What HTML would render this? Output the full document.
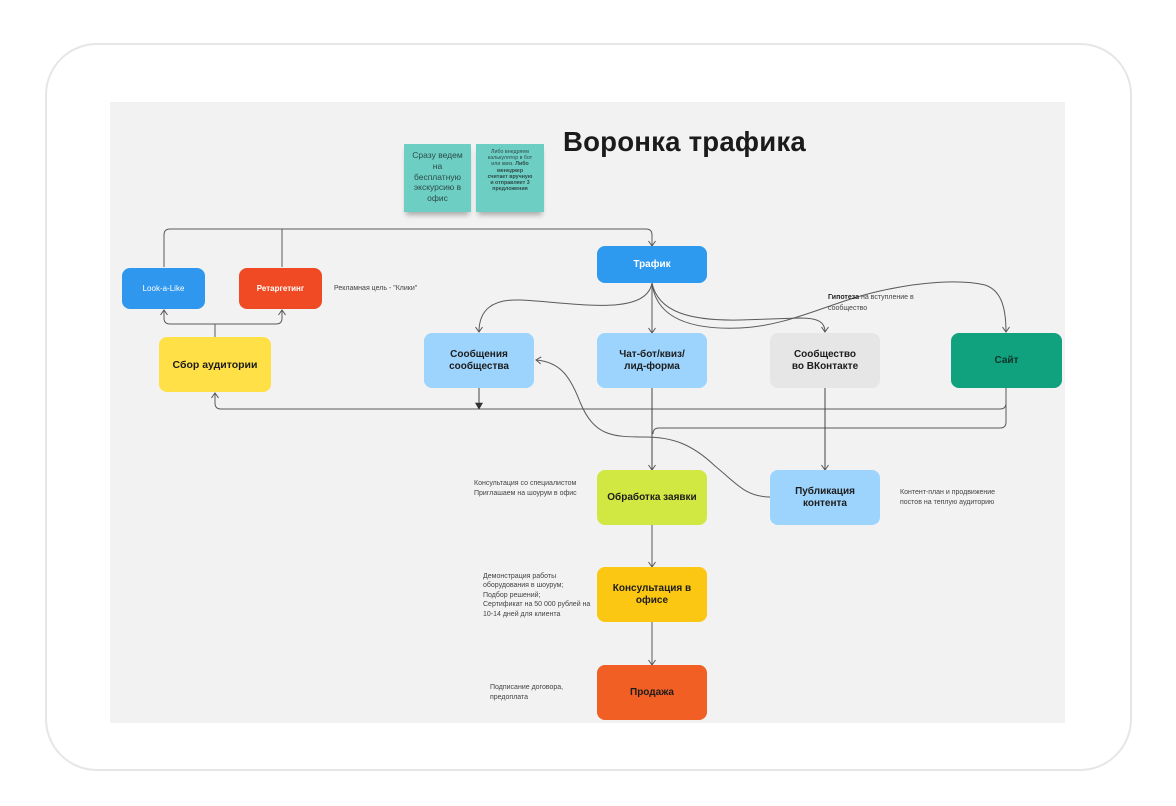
<!DOCTYPE html>
<html><head><meta charset="utf-8"><style>
*{margin:0;padding:0;box-sizing:border-box}
html,body{width:1176px;height:806px;background:#fff;overflow:hidden;font-family:"Liberation Sans","Noto Sans CJK SC",sans-serif}
.frame{position:absolute;left:45px;top:43px;width:1087px;height:728px;border:2px solid #e6e6e6;border-radius:52px}
.canvas{position:absolute;left:110px;top:102px;width:955px;height:621px;background:#f2f2f2}
.box{position:absolute;border-radius:8px;display:flex;align-items:center;justify-content:center;text-align:center;font-weight:bold;font-size:10px;line-height:12px;color:#1c1c1c}
.note{position:absolute;font-size:7px;line-height:10px;color:#444;white-space:nowrap}
.sticky{position:absolute;background:#6dcfc4;text-align:center;color:#2f4a47;box-shadow:0 5px 5px -2px rgba(0,0,0,.3)}
svg{position:absolute;left:0;top:0}
</style></head><body>
<div class="frame"></div>
<div class="canvas"></div>

<div style="position:absolute;left:563px;top:126px;font-size:27.6px;font-weight:bold;color:#1b1b1b;white-space:nowrap;letter-spacing:0.2px">Воронка трафика</div>

<div class="sticky" style="left:404px;top:144px;width:67px;height:68px;font-size:8.5px;line-height:10.8px;padding-top:6px">Сразу ведем<br>на<br>бесплатную<br>экскурсию в<br>офис</div>
<div class="sticky" style="left:476px;top:144px;width:68px;height:68px;font-size:5.3px;line-height:6.2px;padding-top:5px">Либо внедряем<br>калькулятор в бот<br>или квиз. <b>Либо<br>менеджер<br>считает вручную<br>и отправляет 3<br>предложения</b></div>

<svg width="1176" height="806" viewBox="0 0 1176 806">
<defs>
<marker id="a" markerWidth="10" markerHeight="10" refX="8" refY="5" orient="auto" markerUnits="userSpaceOnUse"><path d="M3,1.5 L8,5 L3,8.5" fill="none" stroke="#555" stroke-width="1"/></marker>
<marker id="f" markerWidth="10" markerHeight="10" refX="8" refY="5" orient="auto" markerUnits="userSpaceOnUse"><path d="M2,1.5 L8,5 L2,8.5 Z" fill="#333" stroke="#333" stroke-width="0.6"/></marker>
</defs>
<g fill="none" stroke="#5a5a5a" stroke-width="1">
<path d="M164,267 V235 Q164,229 170,229 H646 Q652,229 652,235 V246" marker-end="url(#a)"/>
<path d="M282,267 V229"/>
<path d="M215,337 V324"/>
<path d="M215,324 H170 Q164,324 164,318 V310" marker-end="url(#a)"/>
<path d="M215,324 H276 Q282,324 282,318 V310" marker-end="url(#a)"/>
<path d="M1006,388 V403 Q1006,409 1000,409 H221 Q215,409 215,403 V393" marker-end="url(#a)"/>
<path d="M479,388 V409" marker-end="url(#f)" stroke="#444"/>
<path d="M1006,403 V422 Q1006,428 1000,428 H659 Q653,428 653,434"/>
<path d="M652,388 V470" marker-end="url(#a)" stroke="#444"/>
<path d="M825,388 V470" marker-end="url(#a)" stroke="#444"/>
<path d="M652,525 V567" marker-end="url(#a)"/>
<path d="M652,622 V665" marker-end="url(#a)"/>
<path d="M652,283 V333" marker-end="url(#a)"/>
<path d="M652,283 C646,318 570,302 520,300 C492,299 479,310 479,332" marker-end="url(#a)"/>
<path d="M652,283 C658,312 690,321 740,320 L800,318 C818,318 825,322 825,332" marker-end="url(#a)"/>
<path d="M652,283 C656,318 690,330 740,328 C790,326 830,302 880,291 C920,282 960,279 985,285 C1000,290 1006,305 1006,332" marker-end="url(#a)"/>
<path d="M770,497 C745,497 735,482 715,466 C692,444 672,437 645,437 C612,437 594,436 580,402 C570,376 560,362 536,360" marker-end="url(#a)"/>
</g>
</svg>

<div class="box" style="left:122px;top:268px;width:83px;height:41px;background:#2f97ee;color:#fff;font-size:8px;font-weight:normal">Look-a-Like</div>
<div class="box" style="left:239px;top:268px;width:83px;height:41px;background:#ef4a23;color:#fff;font-size:8px">Ретаргетинг</div>
<div class="box" style="left:159px;top:337px;width:112px;height:55px;background:#ffe047;font-size:10.5px">Сбор аудитории</div>
<div class="box" style="left:597px;top:246px;width:110px;height:37px;background:#2d9af0;color:#fff">Трафик</div>
<div class="box" style="left:424px;top:333px;width:110px;height:55px;background:#9dd4fd">Сообщения<br>сообщества</div>
<div class="box" style="left:597px;top:333px;width:110px;height:55px;background:#9dd4fd">Чат-бот/квиз/<br>лид-форма</div>
<div class="box" style="left:770px;top:333px;width:110px;height:55px;background:#e6e6e6">Сообщество<br>во ВКонтакте</div>
<div class="box" style="left:951px;top:333px;width:111px;height:55px;background:#10a27f;color:#10312a">Сайт</div>
<div class="box" style="left:597px;top:470px;width:110px;height:55px;background:#d1e843">Обработка заявки</div>
<div class="box" style="left:770px;top:470px;width:110px;height:55px;background:#9dd4fd">Публикация<br>контента</div>
<div class="box" style="left:597px;top:567px;width:110px;height:55px;background:#fbc713">Консультация в<br>офисе</div>
<div class="box" style="left:597px;top:665px;width:110px;height:55px;background:#f15f24">Продажа</div>

<div class="note" style="left:334px;top:284px">Рекламная цель - "Клики"</div>
<div class="note" style="left:828px;top:293px;line-height:10.5px"><b style="color:#222">Гипотеза</b> на вступление в<br>сообщество</div>
<div class="note" style="left:474px;top:479px">Консультация со специалистом<br>Приглашаем на шоурум в офис</div>
<div class="note" style="left:900px;top:488px">Контент-план и продвижение<br>постов на теплую аудиторию</div>
<div class="note" style="left:483px;top:572px;line-height:9.4px">Демонстрация работы<br>оборудования в шоурум;<br>Подбор решений;<br>Сертификат на 50 000 рублей на<br>10-14 дней для клиента</div>
<div class="note" style="left:490px;top:683px">Подписание договора,<br>предоплата</div>
</body></html>
